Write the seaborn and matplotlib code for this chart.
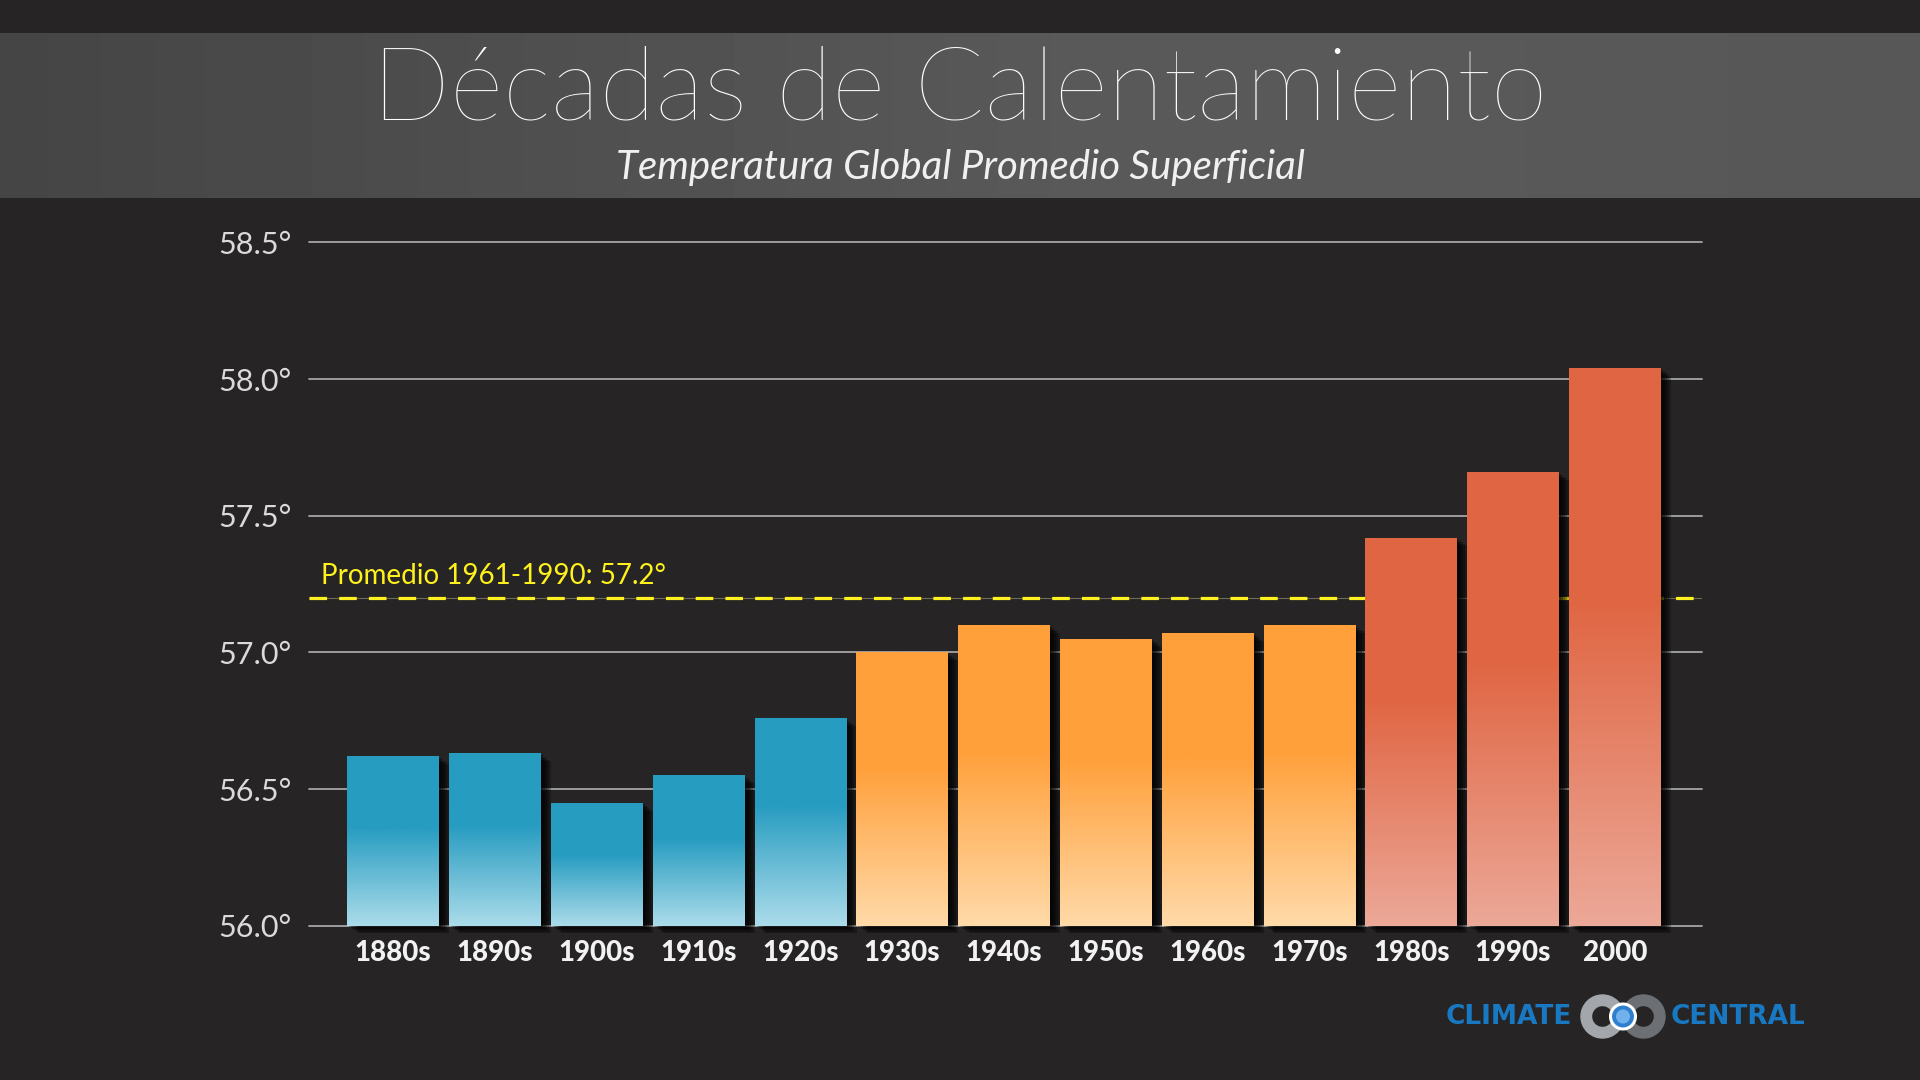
import numpy as np
import pandas as pd
import matplotlib
matplotlib.use('Agg')
import matplotlib.pyplot as plt
import matplotlib.patheffects as pe
from matplotlib.patches import Circle, Annulus
from matplotlib.colors import to_rgb
import seaborn as sns

# data (degrees F)
decades = ['1880s', '1890s', '1900s', '1910s', '1920s', '1930s', '1940s',
           '1950s', '1960s', '1970s', '1980s', '1990s', '2000']
temps = [56.62, 56.63, 56.45, 56.55, 56.76, 57.00, 57.10,
         57.05, 57.07, 57.10, 57.42, 57.66, 58.04]
groups = ['frio'] * 5 + ['medio'] * 5 + ['caliente'] * 3
baseline = 57.2
baseline_label = 'Promedio 1961-1990: 57.2°'
y_ticks = [56.0, 56.5, 57.0, 57.5, 58.0, 58.5]
title = 'Décadas de Calentamiento'
subtitle = 'Temperatura Global Promedio Superficial'

top_colors = {'frio': '#279cc1', 'medio': '#ffa03b', 'caliente': '#e06643'}
bottom_colors = {'frio': '#acdcea', 'medio': '#ffdaa9', 'caliente': '#eca898'}

df = pd.DataFrame({'decada': decades, 'temp': temps, 'grupo': groups})

sns.set_style('dark')
plt.rcParams['font.family'] = ['Lato', 'DejaVu Sans']

bg = '#262425'
fig = plt.figure(figsize=(19.2, 10.8), dpi=100, facecolor=bg)

# grey title band
band = fig.add_axes([0, 0.8167, 1, 0.1527], zorder=-1)
xs = np.linspace(0, 1, 400)
shade = np.interp(xs, [0, 0.6, 1], [0.27, 0.355, 0.34])
band.imshow(np.tile(shade, (10, 1)), cmap='gray', vmin=0, vmax=1, aspect='auto')
band.axis('off')

fig.text(0.5, 1 - 120 / 1080, title, ha='center', va='baseline',
         fontsize=74, fontweight='light', color='white')
fig.text(0.5, 1 - 179 / 1080, subtitle, ha='center', va='baseline',
         fontsize=29, style='italic', color='#f0f0f0')

# main chart
ax = fig.add_axes([0.1607, 0.1429, 0.7260, 0.6326])
ax.set_facecolor('none')
sns.barplot(data=df, x='decada', y='temp', hue='grupo', palette=top_colors,
            dodge=False, width=0.9, saturation=1, legend=False, ax=ax, zorder=2,
            edgecolor='none', linewidth=0)

floor = y_ticks[0]
shadow = [pe.SimplePatchShadow(offset=(o, -0.75 * o), shadow_rgbFace='black', alpha=0.28)
          for o in (1.5, 3, 4.5, 6, 7.5)] + [pe.Normal()]
for p in list(ax.patches):
    h = p.get_height()
    if not np.isfinite(h) or h <= 0:
        continue
    idx = int(round(p.get_x() + p.get_width() / 2))
    g = groups[idx]
    p.set_y(floor)
    p.set_height(h - floor)
    p.set_clip_on(False)
    p.set_edgecolor('none')
    p.set_linewidth(0)
    p.set_path_effects(shadow)
    # vertical gradient: solid on top, fading lighter towards the bottom
    t = np.linspace(1, 0, 256)
    blend = np.clip(t / 0.58, 0, 1)[:, None]
    c_top = np.array(to_rgb(top_colors[g]))
    c_bot = np.array(to_rgb(bottom_colors[g]))
    arr = (c_bot + (c_top - c_bot) * blend)[:, None, :]
    x0 = p.get_x()
    im = ax.imshow(arr, extent=[x0, x0 + p.get_width(), floor, h], aspect='auto',
                   interpolation='bilinear', zorder=3)
    im.set_clip_path(p)

ax.axhline(baseline, color='#6f6d5a', lw=0.8, zorder=1.4)
ax.axhline(baseline, color='#fff01f', lw=2.3, dashes=(5.5, 3.8), zorder=1.5)
ax.annotate(baseline_label, xy=(0.009, baseline), xycoords=ax.get_yaxis_transform(),
            xytext=(0, 10), textcoords='offset points', va='baseline', ha='left',
            color='#fff21c', fontsize=20)

ax.set_xlim(-0.83, 12.86)
ax.set_ylim(y_ticks[0], y_ticks[-1])
ax.set_yticks(y_ticks)
ax.set_yticklabels([f'{v:.1f}°' for v in y_ticks])
ax.yaxis.grid(True, color='#a5a5a5', lw=1.3)
ax.xaxis.grid(False)
ax.set_axisbelow(True)
for gl in ax.get_ygridlines():
    gl.set_clip_on(False)
    gl.set_zorder(1)
ax.tick_params(axis='y', length=0, pad=12, labelsize=22, labelcolor='#dadada')
ax.tick_params(axis='x', length=0, pad=10, labelsize=20, labelcolor='#f2f2f2')
for lbl in ax.get_yticklabels():
    lbl.set_fontweight('normal')
for lbl in ax.get_xticklabels():
    lbl.set_fontweight('black')
ax.set_xlabel('')
ax.set_ylabel('')
for s in ax.spines.values():
    s.set_visible(False)

# Climate Central logo
logo = fig.add_axes([0, 0, 1, 1], zorder=10)
logo.set_xlim(0, 1920)
logo.set_ylim(1080, 0)
logo.axis('off')
logo.patch.set_alpha(0)
logo.add_patch(Annulus((1602.5, 1016.5), 21.5, 10.5, color='#a3a7ab'))
logo.add_patch(Annulus((1643.5, 1016.5), 21.5, 10.5, color='#6c7075'))
logo.add_patch(Circle((1623, 1016.5), 12.5, fc='#2f7fd0', ec='white', lw=2.2))
logo.add_patch(Circle((1623, 1016.5), 7, fc='#7fbcf2', ec='none', alpha=0.85))
logo.text(1572, 1017, 'CLIMATE', ha='right', va='center', color='#1879c2',
          fontsize=19, fontweight='bold', family='DejaVu Sans')
logo.text(1671, 1017, 'CENTRAL', ha='left', va='center', color='#1879c2',
          fontsize=19, fontweight='bold', family='DejaVu Sans')

fig.savefig('out.png', dpi=100, facecolor=bg)
